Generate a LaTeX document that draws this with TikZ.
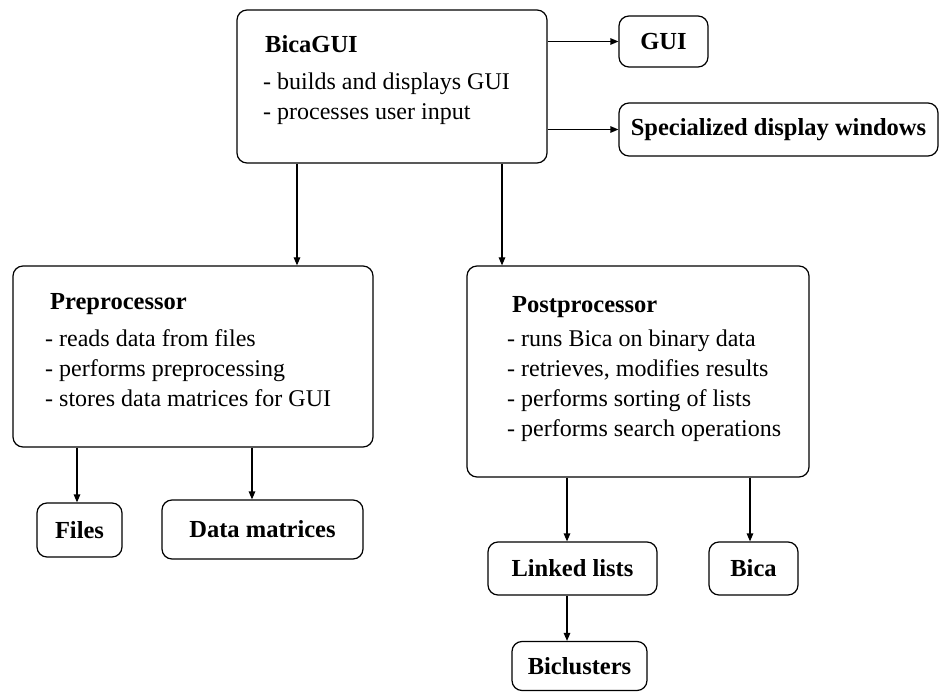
\documentclass[tikz,border=0pt]{standalone}
\usepackage{fontspec}
\setmainfont{Liberation Serif}
\usetikzlibrary{arrows.meta}

\tikzset{
  box/.style={draw,line width=1.2pt,rounded corners=10pt,inner sep=0pt},
  head/.style={font=\fontsize{24.5}{28}\selectfont\bfseries,inner sep=0pt},
  items/.style={font=\fontsize{24}{30}\selectfont,align=left,inner sep=0pt},
  arr/.style={line width=1.2pt,-{Triangle[length=8pt,width=6.5pt]}}
}

\begin{document}
\begin{tikzpicture}[x=1pt,y=-1pt]
        \useasboundingbox (0,0) rectangle (940,692);
        %% main module
        \node[box,minimum width=310pt,minimum height=153pt] (bica) at (392,86.5) {};
        \node[head,anchor=base west] (bicaT) at (265,53) {BicaGUI};
        % base of a multi-line node sits on its last line
        \node[items,anchor=base west] (bicaL) at (263,120) {- builds and displays GUI\\- processes user input};
        \node[box,head,minimum width=89pt,minimum height=51pt] (gui) at (663.5,41.5) {GUI};
        \node[box,head,minimum width=319pt,minimum height=53pt] (spec) at (778.5,129.5) {Specialized display windows};
        %% pre and post
        \node[box,minimum width=360pt,minimum height=181pt] (pre) at (193,356.5) {};
        \node[head,anchor=base west] (preT) at (50,310) {Preprocessor};
        \node[items,anchor=base west] (preL) at (45,407) {- reads data from files\\- performs preprocessing\\- stores data matrices for GUI};
        \node[box,minimum width=342pt,minimum height=211pt] (post) at (638,371.5) {};
        \node[head,anchor=base west] (postT) at (512,313) {Postprocessor};
        \node[items,anchor=base west] (postL) at (507,437) {- runs Bica on binary data\\- retrieves, modifies results\\- performs sorting of lists\\- performs search operations};
        %% data side
        \node[box,head,minimum width=85pt,minimum height=54pt] (files) at (79.5,530) {Files};
        \node[box,head,minimum width=201pt,minimum height=59pt] (data) at (262.5,529.5) {Data matrices};
        \node[box,head,minimum width=169pt,minimum height=53pt] (linked) at (572.5,568.5) {Linked lists};
        \node[box,head,minimum width=89pt,minimum height=53pt] (bicaA) at (753.5,568.5) {Bica};
        \node[box,head,minimum width=135pt,minimum height=49pt] (biclu) at (579.5,666) {Biclusters};
        %% arrows
        \coordinate (xa) at (297,0);
        \coordinate (xb) at (502,0);
        \coordinate (xc) at (77,0);
        \coordinate (xd) at (252,0);
        \coordinate (xe) at (567,0);
        \coordinate (xf) at (750,0);
        \draw[arr] (bica.east |- gui.west) -- (gui.west);
        \draw[arr] (bica.east |- spec.west) -- (spec.west);
        \draw[arr] (bica.south -| xa) -- (pre.north -| xa);
        \draw[arr] (bica.south -| xb) -- (post.north -| xb);
        \draw[arr] (pre.south -| xc) -- (files.north -| xc);
        \draw[arr] (pre.south -| xd) -- (data.north -| xd);
        \draw[arr] (post.south -| xe) -- (linked.north -| xe);
        \draw[arr] (post.south -| xf) -- (bicaA.north -| xf);
        \draw[arr] (linked.south -| xe) -- (biclu.north -| xe);
\end{tikzpicture}
\end{document}
